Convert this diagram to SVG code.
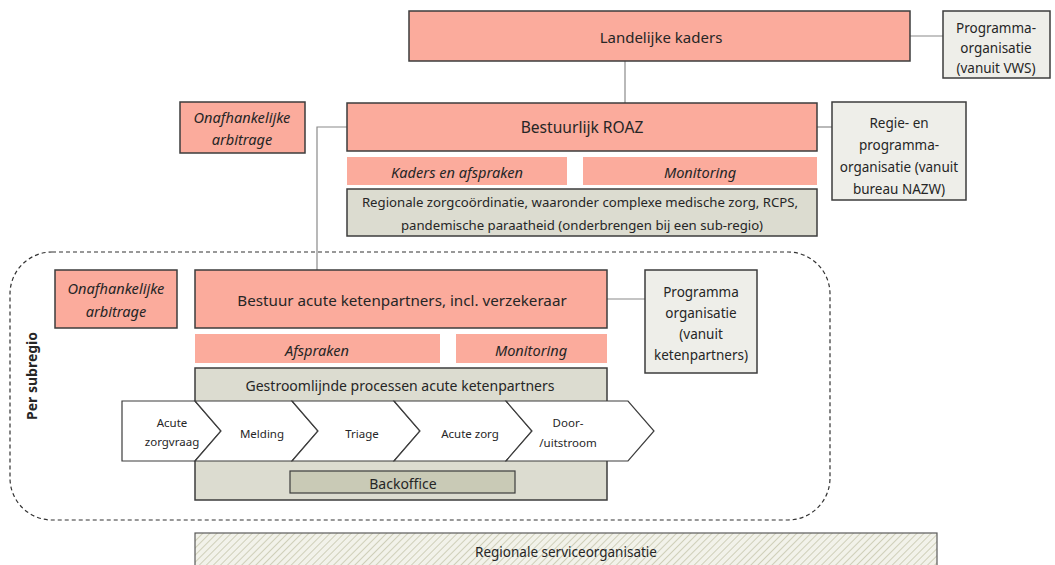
<svg xmlns="http://www.w3.org/2000/svg" width="1055" height="565" viewBox="0 0 1055 565">
<defs>
<style>
text{font-family:"Noto Sans","Open Sans","Liberation Sans",sans-serif;fill:#262626;text-anchor:middle;dominant-baseline:central}
.sal{fill:#fbab9c;stroke:#3d3d3d;stroke-width:1.5}
.salf{fill:#fbab9c}
.gry{fill:#eeeee9;stroke:#3d3d3d;stroke-width:1.5}
.olv{fill:#dcdcd0;stroke:#3d3d3d;stroke-width:1.5}
.chev{fill:#ffffff;stroke:#3d3d3d;stroke-width:1.2}
.con{stroke:#8a8a8a;stroke-width:1.2;fill:none}
.t15{font-size:15px}
.t14{font-size:14px}
.side{font-size:13.5px}
.t13{font-size:13.2px}
.t11{font-size:11.5px}
.it{font-style:italic;font-size:14.6px}
</style>
<pattern id="hatch" patternUnits="userSpaceOnUse" width="5" height="5" patternTransform="rotate(45)">
<rect width="5" height="5" fill="#f2f2ea"/>
<line x1="0" y1="0" x2="0" y2="5" stroke="#c6c6ad" stroke-width="1.6"/>
</pattern>
</defs>
<rect width="1055" height="565" fill="#ffffff"/>

<g id="connectors">
<line class="con" x1="910" y1="36" x2="943" y2="36"/>
<line class="con" x1="625" y1="61" x2="625" y2="103"/>
<line class="con" x1="817" y1="127" x2="832" y2="127"/>
<polyline class="con" points="347,127 317,127 317,270"/>
<line class="con" x1="607" y1="299" x2="645" y2="299"/>
</g>

<g id="subregio">
<rect x="10" y="252" width="820" height="268" rx="42" fill="none" stroke="#333" stroke-width="1.2" stroke-dasharray="4,3"/>
<text x="31" y="376" class="t14" font-weight="bold" transform="rotate(-90 31 376)">Per subregio</text>
</g>

<g id="landelijke-kaders">
<rect class="sal" x="409" y="11" width="501" height="50"/>
<text x="661" y="37" class="t15">Landelijke kaders</text>
</g>

<g id="programma-vws">
<rect class="gry" x="943" y="11" width="107" height="67"/>
<text x="996" y="28" class="side">Programma-</text>
<text x="996" y="48" class="side">organisatie</text>
<text x="996" y="68" class="side">(vanuit VWS)</text>
</g>

<g id="arbitrage-top">
<rect class="sal" x="180" y="102" width="125" height="51"/>
<text x="242" y="117" class="it">Onafhankelijke</text>
<text x="242" y="139" class="it">arbitrage</text>
</g>

<g id="bestuurlijk-roaz">
<rect class="sal" x="347" y="103" width="470" height="48"/>
<text x="582" y="127" font-size="15.6px">Bestuurlijk ROAZ</text>
</g>

<g id="regie-nazw">
<rect class="gry" x="832" y="102" width="134" height="98"/>
<text x="899" y="123" class="side">Regie- en</text>
<text x="899" y="145" class="side">programma-</text>
<text x="899" y="167" class="side">organisatie (vanuit</text>
<text x="899" y="189" class="side">bureau NAZW)</text>
</g>

<g id="kaders-afspraken">
<rect class="salf" x="347" y="157" width="220" height="28"/>
<text x="457" y="172" class="it">Kaders en afspraken</text>
</g>

<g id="monitoring-top">
<rect class="salf" x="583" y="157" width="234" height="28"/>
<text x="700" y="172" class="it">Monitoring</text>
</g>

<g id="regionale-zorgcoordinatie">
<rect class="olv" x="347" y="189" width="470" height="47"/>
<text x="580" y="202" class="t13">Regionale zorgcoördinatie, waaronder complexe medische zorg, RCPS,</text>
<text x="582" y="225" class="t13">pandemische paraatheid (onderbrengen bij een sub-regio)</text>
</g>

<g id="arbitrage-sub">
<rect class="sal" x="55" y="270" width="122" height="58"/>
<text x="116" y="288" class="it">Onafhankelijke</text>
<text x="116" y="311" class="it">arbitrage</text>
</g>

<g id="bestuur-acute">
<rect class="sal" x="195" y="270" width="412" height="58"/>
<text x="402" y="300" font-size="15.2px">Bestuur acute ketenpartners, incl. verzekeraar</text>
</g>

<g id="programma-ketenpartners">
<rect class="gry" x="645" y="270" width="112" height="103"/>
<text x="701" y="292" class="side">Programma</text>
<text x="701" y="313" class="side">organisatie</text>
<text x="701" y="334" class="side">(vanuit</text>
<text x="701" y="355" class="side">ketenpartners)</text>
</g>

<g id="afspraken">
<rect class="salf" x="195" y="334" width="245" height="29"/>
<text x="317" y="350" class="it">Afspraken</text>
</g>

<g id="monitoring-sub">
<rect class="salf" x="456" y="334" width="151" height="29"/>
<text x="531" y="350" class="it">Monitoring</text>
</g>

<g id="gestroomlijnde-processen">
<rect class="olv" x="195" y="368" width="412" height="132"/>
<text x="400" y="385" class="t14">Gestroomlijnde processen acute ketenpartners</text>
</g>

<g id="step-acute-zorgvraag">
<polygon class="chev" points="122,401 195,401 221,431 195,461 122,461"/>
<text x="172" y="422" class="t11">Acute</text>
<text x="172" y="441" class="t11">zorgvraag</text>
</g>
<g id="step-melding">
<polygon class="chev" points="195,401 292,401 318,431 292,461 195,461 221,431"/>
<text x="262" y="433" class="t11">Melding</text>
</g>
<g id="step-triage">
<polygon class="chev" points="292,401 394,401 420,431 394,461 292,461 318,431"/>
<text x="362" y="433" class="t11">Triage</text>
</g>
<g id="step-acute-zorg">
<polygon class="chev" points="394,401 506,401 532,431 506,461 394,461 420,431"/>
<text x="470" y="433" class="t11">Acute zorg</text>
</g>
<g id="step-door-uitstroom">
<polygon class="chev" points="506,401 628,401 654,431 628,461 506,461 532,431"/>
<text x="568" y="422" class="t11">Door-</text>
<text x="568" y="442" class="t11">/uitstroom</text>
</g>

<g id="backoffice">
<rect x="290" y="471" width="225" height="22" fill="#c9cab6" stroke="#3d3d3d" stroke-width="1.2"/>
<text x="403" y="483" class="t14">Backoffice</text>
</g>

<g id="regionale-serviceorganisatie">
<rect x="195" y="533" width="742" height="40" fill="url(#hatch)" stroke="#5a5a5a" stroke-width="1.2"/>
<text x="566" y="552" font-size="13.5px">Regionale serviceorganisatie</text>
</g>
</svg>
